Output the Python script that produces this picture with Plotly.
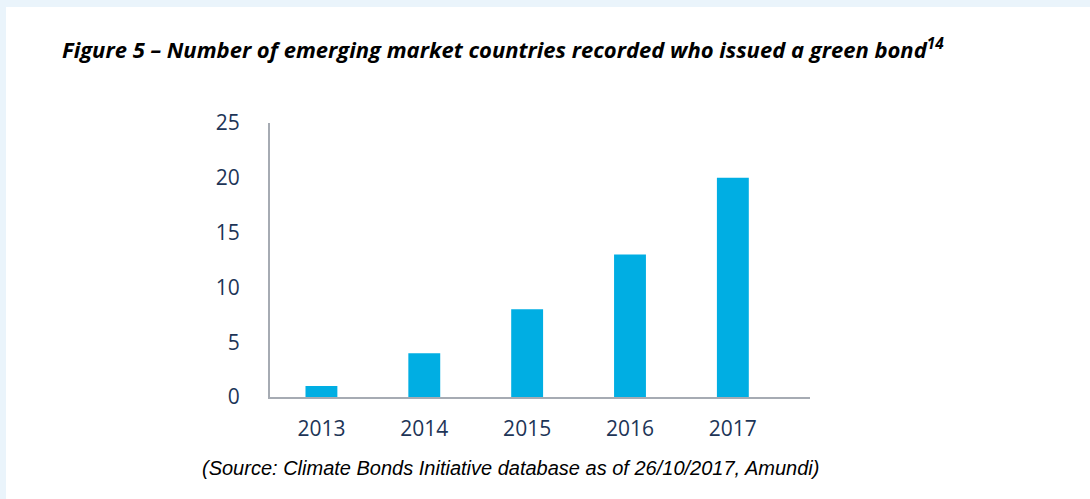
import plotly.graph_objects as go

years = ["2013", "2014", "2015", "2016", "2017"]
countries = [1, 4, 8, 13, 20]

navy = "#1d3557"
axis_grey = "#a6abb3"

fig = go.Figure(
    go.Bar(x=years, y=countries, marker=dict(color="#00aee3", line=dict(width=0)), width=0.31)
)

fig.update_layout(
    width=1090,
    height=499,
    margin=dict(l=270, r=280, t=123, b=102),
    paper_bgcolor="#eaf4fb",
    plot_bgcolor="white",
    showlegend=False,
    font=dict(family="Open Sans, sans-serif", color=navy),
)

# white page area, leaving the thin light-blue frame on top and left
fig.add_shape(
    type="rect", xref="paper", yref="paper",
    x0=(6 - 270) / 540, x1=(1100 - 270) / 540,
    y0=(397 - 510) / 274, y1=(397 - 7) / 274,
    fillcolor="white", line=dict(width=0), layer="below",
)

fig.update_xaxes(
    type="category",
    range=[-0.5, 4.75],
    showline=True, linecolor=axis_grey, linewidth=2,
    showgrid=False, ticks="",
    tickfont=dict(size=21, color=navy, family="Open Sans"),
    ticklabelstandoff=12,
)
fig.update_yaxes(
    range=[0, 25],
    dtick=5,
    showline=True, linecolor=axis_grey, linewidth=2,
    showgrid=False, ticks="", zeroline=False,
    tickfont=dict(size=21, color=navy, family="Open Sans"),
    ticklabelstandoff=24,
)

fig.add_annotation(
    text="<b><i>Figure 5 – Number of emerging market countries recorded who issued a green bond<sup>14</sup></i></b>",
    xref="paper", yref="paper",
    x=(60 - 270) / 540, y=(397 - 48) / 274,
    xanchor="left", yanchor="middle", showarrow=False,
    font=dict(size=22, color="black", family="Open Sans"),
)
fig.add_annotation(
    text="<i>(Source: Climate Bonds Initiative database as of 26/10/2017, Amundi)</i>",
    xref="paper", yref="paper",
    x=(510 - 270) / 540, y=(397 - 468) / 274,
    xanchor="center", yanchor="middle", showarrow=False,
    font=dict(size=20, color="black", family="Liberation Sans, Arial"),
)

fig.write_html(
    "out.html",
    config={"displayModeBar": False},
    post_script="document.body.style.margin='0';document.body.style.overflow='hidden';",
)
